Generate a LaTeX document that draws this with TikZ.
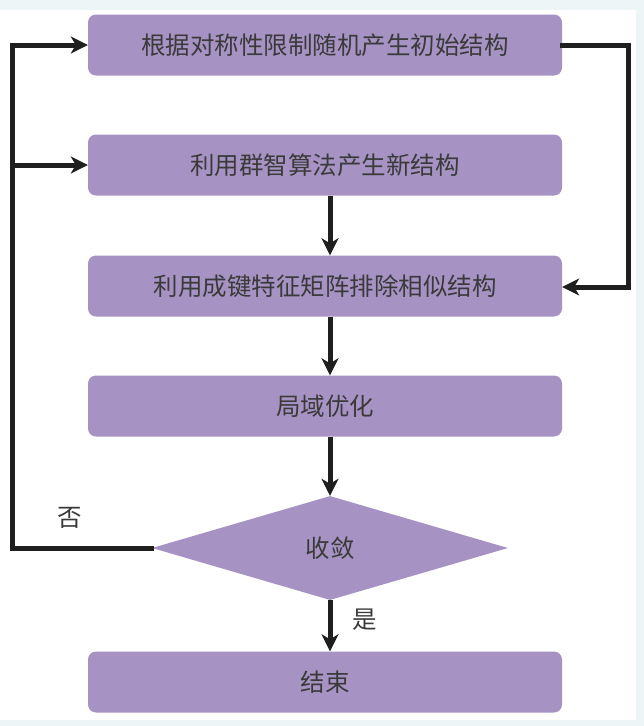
\documentclass[tikz,border=0pt]{standalone}
\usepackage{fontspec}
\setmainfont{Noto Sans CJK SC}
\usetikzlibrary{shapes.geometric,arrows.meta}
\definecolor{boxfill}{HTML}{A693C4}
\definecolor{txtgray}{HTML}{3A3A3A}
\definecolor{edgebg}{HTML}{EEF5F7}
\begin{document}
\begin{tikzpicture}[x=1pt, y=-1pt,
    every node/.style={font=\fontsize{24.5pt}{28pt}\selectfont, text=txtgray},
    procbox/.style={rectangle, rounded corners=8pt, fill=boxfill, minimum width=474pt, minimum height=61pt, inner sep=0pt},
    decide/.style={diamond, fill=boxfill, minimum width=356pt, minimum height=104pt, inner sep=0pt},
    flow/.style={line width=5pt, draw=black!88, -{Stealth[length=17pt,width=17pt,inset=5pt]}},
    link/.style={line width=5pt, draw=black!88}]
            \fill[edgebg] (0,0) rectangle (644,726);
            \fill[white] (0,10) rectangle (636,720);
            \useasboundingbox (0,0) rectangle (644,726);

            \node[procbox] (init) at (325,45) {根据对称性限制随机产生初始结构};
            \node[procbox] (swarm) at (325,165) {利用群智算法产生新结构};
            \node[procbox] (bond) at (325,286) {利用成键特征矩阵排除相似结构};
            \node[procbox] (local) at (325,406) {局域优化};
            \node[decide] (conv) at (330,548) {收敛};
            \node[procbox] (stop) at (325,682) {结束};

            \coordinate (ltop) at (12,45);
            \coordinate (lmid) at (12,165);
            \coordinate (lbot) at (conv.west -| ltop);
            \coordinate (rtop) at (628,45);
            \coordinate (rbot) at (628,287);

            \draw[flow] (swarm.south -| 330,0) -- (bond.north -| 330,0);
            \draw[flow] (bond.south -| 330,0) -- (local.north -| 330,0);
            \draw[flow] (local.south -| 330,0) -- (conv.north);
            \draw[flow] (conv.south) -- (stop.north -| 330,0);

            \draw[link, line cap=rect] (conv.west) -- (lbot) -- (ltop);
            \draw[flow] (ltop) -- (init.west);
            \draw[flow] (lmid) -- (swarm.west);
            \draw[link, line cap=rect] (init.east) -- (rtop) -- (rbot);
            \draw[flow] (rbot) -- (bond.east |- rbot);

            \node at (70,518) {否};
            \node at (365,620) {是};
        \end{tikzpicture}
\end{document}
